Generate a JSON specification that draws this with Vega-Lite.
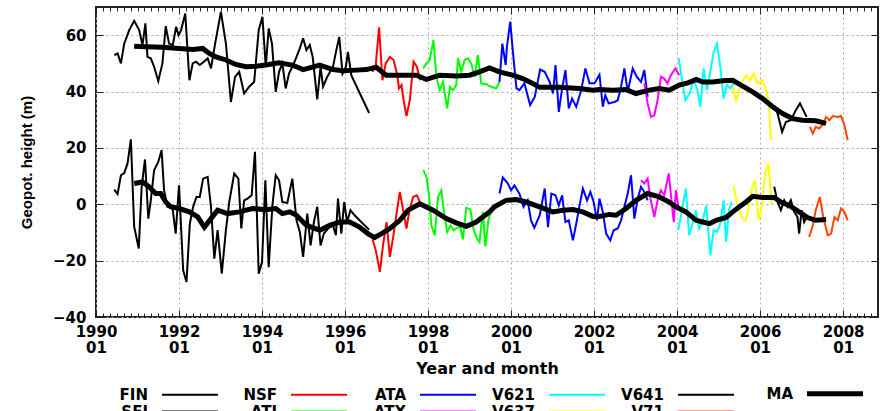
{
"$schema":"https://vega.github.io/schema/vega-lite/v6.json",
"width":782,"height":310,
"autosize":{"type":"none"},
"padding":{"left":96,"top":7,"right":5,"bottom":94},
"background":"white",
"config":{"view":{"stroke":"#222","strokeWidth":2},"axis":{"labelFont":"DejaVu Sans","labelFontWeight":"bold","labelFontSize":15,"labelColor":"#000","titleColor":"#000","domain":false,"labelFlush":false,"labelOverlap":false,"labelBound":false,"tickColor":"#222","tickWidth":1}},
"datasets":{"d":[
{"s":"FIN","l":"U","t":1990.44,"v":52.9},{"s":"FIN","l":"U","t":1990.52,"v":53.5},{"s":"FIN","l":"U","t":1990.60,"v":50.0},{"s":"FIN","l":"U","t":1990.68,"v":57.0},{"s":"FIN","l":"U","t":1990.80,"v":61.8},{"s":"FIN","l":"U","t":1990.92,"v":65.1},{"s":"FIN","l":"U","t":1991.04,"v":61.8},{"s":"FIN","l":"U","t":1991.12,"v":56.5},{"s":"FIN","l":"U","t":1991.19,"v":64.2},{"s":"FIN","l":"U","t":1991.24,"v":52.3},{"s":"FIN","l":"U","t":1991.32,"v":51.8},{"s":"FIN","l":"U","t":1991.40,"v":48.8},{"s":"FIN","l":"U","t":1991.50,"v":43.7},{"s":"FIN","l":"U","t":1991.60,"v":50.0},{"s":"FIN","l":"U","t":1991.68,"v":63.2},{"s":"FIN","l":"U","t":1991.76,"v":57.0},{"s":"FIN","l":"U","t":1991.85,"v":56.5},{"s":"FIN","l":"U","t":1991.93,"v":63.0},{"s":"FIN","l":"U","t":1991.99,"v":60.0},{"s":"FIN","l":"U","t":1992.05,"v":61.8},{"s":"FIN","l":"U","t":1992.15,"v":67.7},{"s":"FIN","l":"U","t":1992.25,"v":44.0},{"s":"FIN","l":"U","t":1992.33,"v":50.0},{"s":"FIN","l":"U","t":1992.41,"v":50.6},{"s":"FIN","l":"U","t":1992.50,"v":49.4},{"s":"FIN","l":"U","t":1992.60,"v":50.6},{"s":"FIN","l":"U","t":1992.69,"v":51.8},{"s":"FIN","l":"U","t":1992.77,"v":48.2},{"s":"FIN","l":"U","t":1992.87,"v":57.0},{"s":"FIN","l":"U","t":1993.01,"v":68.3},{"s":"FIN","l":"U","t":1993.13,"v":57.0},{"s":"FIN","l":"U","t":1993.25,"v":36.3},{"s":"FIN","l":"U","t":1993.35,"v":45.2},{"s":"FIN","l":"U","t":1993.45,"v":47.0},{"s":"FIN","l":"U","t":1993.57,"v":39.3},{"s":"FIN","l":"U","t":1993.69,"v":41.7},{"s":"FIN","l":"U","t":1993.81,"v":43.4},{"s":"FIN","l":"U","t":1993.92,"v":61.8},{"s":"FIN","l":"U","t":1994.01,"v":66.5},{"s":"FIN","l":"U","t":1994.09,"v":48.8},{"s":"FIN","l":"U","t":1994.16,"v":62.4},{"s":"FIN","l":"U","t":1994.24,"v":57.0},{"s":"FIN","l":"U","t":1994.33,"v":39.9},{"s":"FIN","l":"U","t":1994.41,"v":47.0},{"s":"FIN","l":"U","t":1994.49,"v":50.0},{"s":"FIN","l":"U","t":1994.57,"v":41.1},{"s":"FIN","l":"U","t":1994.65,"v":46.4},{"s":"FIN","l":"U","t":1994.75,"v":49.4},{"s":"FIN","l":"U","t":1994.83,"v":52.3},{"s":"FIN","l":"U","t":1994.91,"v":55.3},{"s":"FIN","l":"U","t":1994.99,"v":58.9},
{"s":"SFI","l":"U","t":1994.99,"v":58.9},{"s":"SFI","l":"U","t":1995.07,"v":54.7},{"s":"SFI","l":"U","t":1995.15,"v":56.5},{"s":"SFI","l":"U","t":1995.22,"v":52.3},{"s":"SFI","l":"U","t":1995.33,"v":37.2},{"s":"SFI","l":"U","t":1995.41,"v":48.8},{"s":"SFI","l":"U","t":1995.47,"v":41.7},{"s":"SFI","l":"U","t":1995.57,"v":45.2},{"s":"SFI","l":"U","t":1995.71,"v":48.8},{"s":"SFI","l":"U","t":1995.79,"v":54.7},{"s":"SFI","l":"U","t":1995.86,"v":59.4},{"s":"SFI","l":"U","t":1995.94,"v":46.4},{"s":"SFI","l":"U","t":1996.02,"v":48.8},{"s":"SFI","l":"U","t":1996.07,"v":54.1},{"s":"SFI","l":"U","t":1996.15,"v":45.8},{"s":"SFI","l":"U","t":1996.58,"v":32.4},
{"s":"NSF","l":"U","t":1996.66,"v":47.0},{"s":"NSF","l":"U","t":1996.74,"v":49.4},{"s":"NSF","l":"U","t":1996.82,"v":62.8},{"s":"NSF","l":"U","t":1996.90,"v":44.0},{"s":"NSF","l":"U","t":1996.98,"v":50.0},{"s":"NSF","l":"U","t":1997.08,"v":52.3},{"s":"NSF","l":"U","t":1997.17,"v":51.2},{"s":"NSF","l":"U","t":1997.25,"v":46.4},{"s":"NSF","l":"U","t":1997.30,"v":41.1},{"s":"NSF","l":"U","t":1997.36,"v":42.3},{"s":"NSF","l":"U","t":1997.41,"v":36.9},{"s":"NSF","l":"U","t":1997.48,"v":31.3},{"s":"NSF","l":"U","t":1997.56,"v":36.9},{"s":"NSF","l":"U","t":1997.65,"v":50.6},{"s":"NSF","l":"U","t":1997.73,"v":48.8},{"s":"NSF","l":"U","t":1997.81,"v":44.0},
{"s":"ATI","l":"U","t":1997.88,"v":48.2},{"s":"ATI","l":"U","t":1997.96,"v":50.0},{"s":"ATI","l":"U","t":1998.04,"v":51.2},{"s":"ATI","l":"U","t":1998.13,"v":58.3},{"s":"ATI","l":"U","t":1998.20,"v":45.2},{"s":"ATI","l":"U","t":1998.28,"v":40.5},{"s":"ATI","l":"U","t":1998.36,"v":43.4},{"s":"ATI","l":"U","t":1998.46,"v":34.0},{"s":"ATI","l":"U","t":1998.53,"v":41.7},{"s":"ATI","l":"U","t":1998.60,"v":40.5},{"s":"ATI","l":"U","t":1998.68,"v":42.3},{"s":"ATI","l":"U","t":1998.72,"v":51.8},{"s":"ATI","l":"U","t":1998.80,"v":47.0},{"s":"ATI","l":"U","t":1998.88,"v":51.2},{"s":"ATI","l":"U","t":1998.96,"v":51.8},{"s":"ATI","l":"U","t":1999.04,"v":50.0},{"s":"ATI","l":"U","t":1999.12,"v":45.2},{"s":"ATI","l":"U","t":1999.20,"v":52.9},{"s":"ATI","l":"U","t":1999.28,"v":42.9},{"s":"ATI","l":"U","t":1999.40,"v":42.6},{"s":"ATI","l":"U","t":1999.48,"v":41.9},{"s":"ATI","l":"U","t":1999.64,"v":41.1},{"s":"ATI","l":"U","t":1999.72,"v":43.4},
{"s":"ATA","l":"U","t":1999.72,"v":43.4},{"s":"ATA","l":"U","t":1999.79,"v":57.0},{"s":"ATA","l":"U","t":1999.87,"v":49.4},{"s":"ATA","l":"U","t":1999.90,"v":55.9},{"s":"ATA","l":"U","t":1999.98,"v":64.8},{"s":"ATA","l":"U","t":2000.04,"v":54.7},{"s":"ATA","l":"U","t":2000.13,"v":41.1},{"s":"ATA","l":"U","t":2000.20,"v":40.5},{"s":"ATA","l":"U","t":2000.32,"v":42.9},{"s":"ATA","l":"U","t":2000.46,"v":35.2},{"s":"ATA","l":"U","t":2000.57,"v":38.1},{"s":"ATA","l":"U","t":2000.70,"v":47.8},{"s":"ATA","l":"U","t":2000.81,"v":47.0},{"s":"ATA","l":"U","t":2000.93,"v":43.4},{"s":"ATA","l":"U","t":2001.01,"v":39.3},{"s":"ATA","l":"U","t":2001.07,"v":49.4},{"s":"ATA","l":"U","t":2001.15,"v":32.8},{"s":"ATA","l":"U","t":2001.23,"v":41.1},{"s":"ATA","l":"U","t":2001.31,"v":47.6},{"s":"ATA","l":"U","t":2001.39,"v":34.0},{"s":"ATA","l":"U","t":2001.47,"v":37.5},{"s":"ATA","l":"U","t":2001.57,"v":34.6},{"s":"ATA","l":"U","t":2001.69,"v":40.5},{"s":"ATA","l":"U","t":2001.79,"v":48.2},{"s":"ATA","l":"U","t":2001.89,"v":42.9},{"s":"ATA","l":"U","t":2002.01,"v":42.9},{"s":"ATA","l":"U","t":2002.13,"v":46.0},{"s":"ATA","l":"U","t":2002.21,"v":34.6},{"s":"ATA","l":"U","t":2002.27,"v":38.7},{"s":"ATA","l":"U","t":2002.35,"v":35.8},{"s":"ATA","l":"U","t":2002.49,"v":36.3},{"s":"ATA","l":"U","t":2002.57,"v":36.9},{"s":"ATA","l":"U","t":2002.65,"v":41.7},{"s":"ATA","l":"U","t":2002.73,"v":48.2},{"s":"ATA","l":"U","t":2002.81,"v":39.9},{"s":"ATA","l":"U","t":2002.93,"v":48.2},{"s":"ATA","l":"U","t":2003.03,"v":45.2},{"s":"ATA","l":"U","t":2003.13,"v":43.4},{"s":"ATA","l":"U","t":2003.21,"v":47.6},{"s":"ATA","l":"U","t":2003.29,"v":38.1},
{"s":"ATX","l":"U","t":2003.21,"v":42.9},{"s":"ATX","l":"U","t":2003.29,"v":35.8},{"s":"ATX","l":"U","t":2003.37,"v":31.0},{"s":"ATX","l":"U","t":2003.45,"v":31.6},{"s":"ATX","l":"U","t":2003.53,"v":36.9},{"s":"ATX","l":"U","t":2003.61,"v":45.2},{"s":"ATX","l":"U","t":2003.69,"v":44.6},{"s":"ATX","l":"U","t":2003.77,"v":42.9},{"s":"ATX","l":"U","t":2003.85,"v":45.8},{"s":"ATX","l":"U","t":2003.96,"v":48.2},{"s":"ATX","l":"U","t":2004.05,"v":45.8},
{"s":"V621","l":"U","t":2004.04,"v":51.8},{"s":"V621","l":"U","t":2004.10,"v":45.8},{"s":"V621","l":"U","t":2004.20,"v":36.9},{"s":"V621","l":"U","t":2004.30,"v":39.3},{"s":"V621","l":"U","t":2004.40,"v":44.0},{"s":"V621","l":"U","t":2004.48,"v":41.1},{"s":"V621","l":"U","t":2004.56,"v":34.6},{"s":"V621","l":"U","t":2004.64,"v":48.2},{"s":"V621","l":"U","t":2004.72,"v":40.5},{"s":"V621","l":"U","t":2004.80,"v":47.0},{"s":"V621","l":"U","t":2004.88,"v":54.1},{"s":"V621","l":"U","t":2004.96,"v":57.0},{"s":"V621","l":"U","t":2005.04,"v":48.8},{"s":"V621","l":"U","t":2005.12,"v":37.5},{"s":"V621","l":"U","t":2005.20,"v":42.3},{"s":"V621","l":"U","t":2005.28,"v":41.1},{"s":"V621","l":"U","t":2005.36,"v":42.9},
{"s":"V637","l":"U","t":2005.34,"v":41.7},{"s":"V637","l":"U","t":2005.42,"v":36.9},{"s":"V637","l":"U","t":2005.50,"v":40.5},{"s":"V637","l":"U","t":2005.59,"v":44.0},{"s":"V637","l":"U","t":2005.67,"v":45.8},{"s":"V637","l":"U","t":2005.76,"v":44.0},{"s":"V637","l":"U","t":2005.84,"v":46.4},{"s":"V637","l":"U","t":2005.94,"v":42.9},{"s":"V637","l":"U","t":2006.05,"v":44.0},{"s":"V637","l":"U","t":2006.14,"v":40.5},{"s":"V637","l":"U","t":2006.21,"v":35.8},{"s":"V637","l":"U","t":2006.26,"v":22.7},
{"s":"V641","l":"U","t":2006.34,"v":35.2},{"s":"V641","l":"U","t":2006.42,"v":32.2},{"s":"V641","l":"U","t":2006.53,"v":25.7},{"s":"V641","l":"U","t":2006.62,"v":29.2},{"s":"V641","l":"U","t":2006.74,"v":29.8},{"s":"V641","l":"U","t":2006.86,"v":33.4},{"s":"V641","l":"U","t":2006.96,"v":35.8},{"s":"V641","l":"U","t":2007.04,"v":33.4},{"s":"V641","l":"U","t":2007.12,"v":31.0},
{"s":"V71","l":"U","t":2007.20,"v":27.5},{"s":"V71","l":"U","t":2007.27,"v":25.1},{"s":"V71","l":"U","t":2007.34,"v":27.5},{"s":"V71","l":"U","t":2007.42,"v":26.9},{"s":"V71","l":"U","t":2007.50,"v":28.1},{"s":"V71","l":"U","t":2007.59,"v":31.0},{"s":"V71","l":"U","t":2007.67,"v":29.8},{"s":"V71","l":"U","t":2007.75,"v":31.3},{"s":"V71","l":"U","t":2007.87,"v":31.0},{"s":"V71","l":"U","t":2007.95,"v":31.3},{"s":"V71","l":"U","t":2008.03,"v":28.1},{"s":"V71","l":"U","t":2008.11,"v":22.7},
{"s":"MA","l":"U","t":1990.92,"v":56.1},{"s":"MA","l":"U","t":1991.20,"v":55.9},{"s":"MA","l":"U","t":1991.60,"v":55.7},{"s":"MA","l":"U","t":1992.00,"v":55.3},{"s":"MA","l":"U","t":1992.33,"v":54.9},{"s":"MA","l":"U","t":1992.57,"v":55.3},{"s":"MA","l":"U","t":1992.73,"v":53.5},{"s":"MA","l":"U","t":1992.89,"v":52.3},{"s":"MA","l":"U","t":1993.13,"v":51.2},{"s":"MA","l":"U","t":1993.37,"v":49.6},{"s":"MA","l":"U","t":1993.61,"v":48.8},{"s":"MA","l":"U","t":1993.85,"v":49.0},{"s":"MA","l":"U","t":1994.09,"v":49.4},{"s":"MA","l":"U","t":1994.41,"v":50.2},{"s":"MA","l":"U","t":1994.73,"v":49.4},{"s":"MA","l":"U","t":1994.99,"v":47.8},{"s":"MA","l":"U","t":1995.39,"v":49.4},{"s":"MA","l":"U","t":1995.71,"v":47.8},{"s":"MA","l":"U","t":1995.95,"v":47.4},{"s":"MA","l":"U","t":1996.27,"v":47.6},{"s":"MA","l":"U","t":1996.51,"v":47.8},{"s":"MA","l":"U","t":1996.75,"v":48.6},{"s":"MA","l":"U","t":1996.99,"v":45.8},{"s":"MA","l":"U","t":1997.40,"v":45.8},{"s":"MA","l":"U","t":1997.72,"v":45.8},{"s":"MA","l":"U","t":1997.96,"v":44.3},{"s":"MA","l":"U","t":1998.28,"v":45.8},{"s":"MA","l":"U","t":1998.68,"v":45.5},{"s":"MA","l":"U","t":1999.00,"v":45.8},{"s":"MA","l":"U","t":1999.24,"v":47.0},{"s":"MA","l":"U","t":1999.48,"v":48.4},{"s":"MA","l":"U","t":1999.72,"v":47.0},{"s":"MA","l":"U","t":2000.04,"v":45.8},{"s":"MA","l":"U","t":2000.28,"v":44.6},{"s":"MA","l":"U","t":2000.52,"v":42.9},{"s":"MA","l":"U","t":2000.69,"v":41.5},{"s":"MA","l":"U","t":2001.17,"v":41.5},{"s":"MA","l":"U","t":2001.65,"v":41.1},{"s":"MA","l":"U","t":2001.97,"v":40.5},{"s":"MA","l":"U","t":2002.13,"v":40.7},{"s":"MA","l":"U","t":2002.45,"v":40.5},{"s":"MA","l":"U","t":2002.77,"v":40.7},{"s":"MA","l":"U","t":2003.01,"v":39.3},{"s":"MA","l":"U","t":2003.33,"v":40.5},{"s":"MA","l":"U","t":2003.57,"v":41.1},{"s":"MA","l":"U","t":2003.81,"v":40.5},{"s":"MA","l":"U","t":2004.05,"v":42.3},{"s":"MA","l":"U","t":2004.26,"v":43.1},{"s":"MA","l":"U","t":2004.46,"v":44.3},{"s":"MA","l":"U","t":2004.62,"v":43.4},{"s":"MA","l":"U","t":2004.86,"v":43.4},{"s":"MA","l":"U","t":2005.10,"v":43.8},{"s":"MA","l":"U","t":2005.34,"v":44.0},{"s":"MA","l":"U","t":2005.58,"v":41.9},{"s":"MA","l":"U","t":2005.82,"v":39.9},{"s":"MA","l":"U","t":2006.06,"v":37.5},{"s":"MA","l":"U","t":2006.30,"v":34.6},{"s":"MA","l":"U","t":2006.54,"v":32.2},{"s":"MA","l":"U","t":2006.78,"v":30.4},{"s":"MA","l":"U","t":2007.02,"v":29.8},{"s":"MA","l":"U","t":2007.34,"v":29.6},{"s":"MA","l":"U","t":2007.59,"v":28.7},
{"s":"FIN","l":"L","t":1990.44,"v":5.2},{"s":"FIN","l":"L","t":1990.52,"v":3.6},{"s":"FIN","l":"L","t":1990.60,"v":10.3},{"s":"FIN","l":"L","t":1990.68,"v":11.1},{"s":"FIN","l":"L","t":1990.76,"v":14.5},{"s":"FIN","l":"L","t":1990.84,"v":23.0},{"s":"FIN","l":"L","t":1990.92,"v":-8.0},{"s":"FIN","l":"L","t":1991.03,"v":-15.7},{"s":"FIN","l":"L","t":1991.10,"v":6.2},{"s":"FIN","l":"L","t":1991.18,"v":15.9},{"s":"FIN","l":"L","t":1991.26,"v":-5.1},{"s":"FIN","l":"L","t":1991.32,"v":1.4},{"s":"FIN","l":"L","t":1991.40,"v":12.1},{"s":"FIN","l":"L","t":1991.50,"v":15.0},{"s":"FIN","l":"L","t":1991.58,"v":19.2},{"s":"FIN","l":"L","t":1991.64,"v":5.0},{"s":"FIN","l":"L","t":1991.72,"v":-0.9},{"s":"FIN","l":"L","t":1991.84,"v":-0.9},{"s":"FIN","l":"L","t":1991.92,"v":-10.4},{"s":"FIN","l":"L","t":1992.00,"v":6.7},{"s":"FIN","l":"L","t":1992.10,"v":-23.4},{"s":"FIN","l":"L","t":1992.18,"v":-27.6},{"s":"FIN","l":"L","t":1992.26,"v":-6.9},{"s":"FIN","l":"L","t":1992.34,"v":-0.9},{"s":"FIN","l":"L","t":1992.42,"v":2.6},{"s":"FIN","l":"L","t":1992.50,"v":2.6},{"s":"FIN","l":"L","t":1992.58,"v":9.1},{"s":"FIN","l":"L","t":1992.69,"v":9.7},{"s":"FIN","l":"L","t":1992.77,"v":-0.9},{"s":"FIN","l":"L","t":1992.85,"v":-19.3},{"s":"FIN","l":"L","t":1992.93,"v":-9.2},{"s":"FIN","l":"L","t":1993.03,"v":-24.6},{"s":"FIN","l":"L","t":1993.13,"v":-9.2},{"s":"FIN","l":"L","t":1993.21,"v":0.8},{"s":"FIN","l":"L","t":1993.33,"v":10.9},{"s":"FIN","l":"L","t":1993.43,"v":9.1},{"s":"FIN","l":"L","t":1993.50,"v":-8.6},{"s":"FIN","l":"L","t":1993.57,"v":1.4},{"s":"FIN","l":"L","t":1993.65,"v":2.0},{"s":"FIN","l":"L","t":1993.75,"v":3.2},{"s":"FIN","l":"L","t":1993.83,"v":18.6},{"s":"FIN","l":"L","t":1993.92,"v":-24.6},{"s":"FIN","l":"L","t":1994.00,"v":-20.5},{"s":"FIN","l":"L","t":1994.08,"v":8.5},{"s":"FIN","l":"L","t":1994.16,"v":-22.3},{"s":"FIN","l":"L","t":1994.25,"v":-0.4},{"s":"FIN","l":"L","t":1994.33,"v":10.3},{"s":"FIN","l":"L","t":1994.41,"v":8.5},{"s":"FIN","l":"L","t":1994.49,"v":0.8},{"s":"FIN","l":"L","t":1994.61,"v":0.5},{"s":"FIN","l":"L","t":1994.73,"v":9.1},{"s":"FIN","l":"L","t":1994.83,"v":-5.7},{"s":"FIN","l":"L","t":1994.91,"v":-9.8},{"s":"FIN","l":"L","t":1994.99,"v":-18.7},
{"s":"SFI","l":"L","t":1994.99,"v":-18.7},{"s":"SFI","l":"L","t":1995.09,"v":-3.3},{"s":"SFI","l":"L","t":1995.17,"v":-14.6},{"s":"SFI","l":"L","t":1995.25,"v":-6.3},{"s":"SFI","l":"L","t":1995.33,"v":-0.9},{"s":"SFI","l":"L","t":1995.41,"v":-14.6},{"s":"SFI","l":"L","t":1995.49,"v":-10.4},{"s":"SFI","l":"L","t":1995.59,"v":-8.6},{"s":"SFI","l":"L","t":1995.71,"v":-7.5},{"s":"SFI","l":"L","t":1995.78,"v":-11.0},{"s":"SFI","l":"L","t":1995.83,"v":2.0},{"s":"SFI","l":"L","t":1995.91,"v":-10.4},{"s":"SFI","l":"L","t":1995.98,"v":0.8},{"s":"SFI","l":"L","t":1996.05,"v":-6.3},{"s":"SFI","l":"L","t":1996.13,"v":-2.1},{"s":"SFI","l":"L","t":1996.23,"v":-3.9},{"s":"SFI","l":"L","t":1996.39,"v":-6.3},{"s":"SFI","l":"L","t":1996.58,"v":-9.0},
{"s":"NSF","l":"L","t":1996.66,"v":-12.5},{"s":"NSF","l":"L","t":1996.74,"v":-16.3},{"s":"NSF","l":"L","t":1996.84,"v":-24.0},{"s":"NSF","l":"L","t":1996.92,"v":-14.0},{"s":"NSF","l":"L","t":1997.00,"v":-6.3},{"s":"NSF","l":"L","t":1997.08,"v":-18.7},{"s":"NSF","l":"L","t":1997.16,"v":-11.6},{"s":"NSF","l":"L","t":1997.24,"v":-3.3},{"s":"NSF","l":"L","t":1997.32,"v":4.4},{"s":"NSF","l":"L","t":1997.40,"v":-2.1},{"s":"NSF","l":"L","t":1997.48,"v":-8.6},{"s":"NSF","l":"L","t":1997.56,"v":-1.5},{"s":"NSF","l":"L","t":1997.64,"v":2.6},{"s":"NSF","l":"L","t":1997.73,"v":3.2},{"s":"NSF","l":"L","t":1997.84,"v":-0.4},
{"s":"ATI","l":"L","t":1997.89,"v":12.1},{"s":"ATI","l":"L","t":1997.96,"v":9.7},{"s":"ATI","l":"L","t":1998.02,"v":3.8},{"s":"ATI","l":"L","t":1998.08,"v":-7.5},{"s":"ATI","l":"L","t":1998.16,"v":-11.0},{"s":"ATI","l":"L","t":1998.24,"v":2.6},{"s":"ATI","l":"L","t":1998.32,"v":5.0},{"s":"ATI","l":"L","t":1998.40,"v":-4.5},{"s":"ATI","l":"L","t":1998.46,"v":-9.8},{"s":"ATI","l":"L","t":1998.54,"v":-7.5},{"s":"ATI","l":"L","t":1998.62,"v":-9.2},{"s":"ATI","l":"L","t":1998.70,"v":-8.3},{"s":"ATI","l":"L","t":1998.78,"v":-8.1},{"s":"ATI","l":"L","t":1998.84,"v":-12.5},{"s":"ATI","l":"L","t":1998.92,"v":-1.2},{"s":"ATI","l":"L","t":1999.02,"v":-1.9},{"s":"ATI","l":"L","t":1999.10,"v":-9.2},{"s":"ATI","l":"L","t":1999.18,"v":-12.2},{"s":"ATI","l":"L","t":1999.24,"v":-13.4},{"s":"ATI","l":"L","t":1999.32,"v":-2.7},{"s":"ATI","l":"L","t":1999.38,"v":-15.0},{"s":"ATI","l":"L","t":1999.46,"v":-5.0},{"s":"ATI","l":"L","t":1999.56,"v":-1.5},{"s":"ATI","l":"L","t":1999.64,"v":-0.4},
{"s":"ATA","l":"L","t":1999.72,"v":3.8},{"s":"ATA","l":"L","t":1999.80,"v":9.5},{"s":"ATA","l":"L","t":1999.92,"v":7.4},{"s":"ATA","l":"L","t":2000.00,"v":5.0},{"s":"ATA","l":"L","t":2000.08,"v":6.7},{"s":"ATA","l":"L","t":2000.20,"v":3.8},{"s":"ATA","l":"L","t":2000.30,"v":-0.9},{"s":"ATA","l":"L","t":2000.40,"v":1.4},{"s":"ATA","l":"L","t":2000.48,"v":-5.7},{"s":"ATA","l":"L","t":2000.56,"v":-8.3},{"s":"ATA","l":"L","t":2000.69,"v":-3.9},{"s":"ATA","l":"L","t":2000.81,"v":5.6},{"s":"ATA","l":"L","t":2000.89,"v":-8.1},{"s":"ATA","l":"L","t":2000.97,"v":3.8},{"s":"ATA","l":"L","t":2001.07,"v":3.2},{"s":"ATA","l":"L","t":2001.15,"v":-0.4},{"s":"ATA","l":"L","t":2001.23,"v":3.2},{"s":"ATA","l":"L","t":2001.31,"v":-6.3},{"s":"ATA","l":"L","t":2001.39,"v":-5.7},{"s":"ATA","l":"L","t":2001.49,"v":-12.8},{"s":"ATA","l":"L","t":2001.57,"v":-6.9},{"s":"ATA","l":"L","t":2001.65,"v":-0.4},{"s":"ATA","l":"L","t":2001.73,"v":5.6},{"s":"ATA","l":"L","t":2001.83,"v":1.4},{"s":"ATA","l":"L","t":2001.91,"v":4.4},{"s":"ATA","l":"L","t":2001.99,"v":0.8},{"s":"ATA","l":"L","t":2002.07,"v":-5.7},{"s":"ATA","l":"L","t":2002.13,"v":2.0},{"s":"ATA","l":"L","t":2002.21,"v":-2.7},{"s":"ATA","l":"L","t":2002.29,"v":-10.4},{"s":"ATA","l":"L","t":2002.39,"v":-12.8},{"s":"ATA","l":"L","t":2002.47,"v":-9.2},{"s":"ATA","l":"L","t":2002.57,"v":-8.6},{"s":"ATA","l":"L","t":2002.65,"v":-5.7},{"s":"ATA","l":"L","t":2002.73,"v":-0.9},{"s":"ATA","l":"L","t":2002.81,"v":3.8},{"s":"ATA","l":"L","t":2002.89,"v":10.3},{"s":"ATA","l":"L","t":2002.97,"v":-5.1},{"s":"ATA","l":"L","t":2003.05,"v":2.0},{"s":"ATA","l":"L","t":2003.13,"v":6.2},{"s":"ATA","l":"L","t":2003.21,"v":4.4},{"s":"ATA","l":"L","t":2003.29,"v":1.4},
{"s":"ATX","l":"L","t":2003.13,"v":8.5},{"s":"ATX","l":"L","t":2003.21,"v":7.4},{"s":"ATX","l":"L","t":2003.29,"v":9.1},{"s":"ATX","l":"L","t":2003.35,"v":2.6},{"s":"ATX","l":"L","t":2003.45,"v":-4.5},{"s":"ATX","l":"L","t":2003.53,"v":1.4},{"s":"ATX","l":"L","t":2003.61,"v":5.0},{"s":"ATX","l":"L","t":2003.69,"v":3.2},{"s":"ATX","l":"L","t":2003.80,"v":10.9},{"s":"ATX","l":"L","t":2003.88,"v":-0.9},{"s":"ATX","l":"L","t":2003.92,"v":-6.3},{"s":"ATX","l":"L","t":2003.97,"v":5.0},{"s":"ATX","l":"L","t":2004.03,"v":-0.9},
{"s":"V621","l":"L","t":2004.03,"v":-9.2},{"s":"V621","l":"L","t":2004.13,"v":-0.9},{"s":"V621","l":"L","t":2004.21,"v":5.6},{"s":"V621","l":"L","t":2004.29,"v":-11.0},{"s":"V621","l":"L","t":2004.37,"v":-6.9},{"s":"V621","l":"L","t":2004.45,"v":-2.1},{"s":"V621","l":"L","t":2004.53,"v":-8.6},{"s":"V621","l":"L","t":2004.62,"v":-5.7},{"s":"V621","l":"L","t":2004.70,"v":-0.4},{"s":"V621","l":"L","t":2004.80,"v":-18.1},{"s":"V621","l":"L","t":2004.88,"v":-9.2},{"s":"V621","l":"L","t":2004.96,"v":-9.8},{"s":"V621","l":"L","t":2005.04,"v":-6.9},{"s":"V621","l":"L","t":2005.12,"v":1.4},{"s":"V621","l":"L","t":2005.18,"v":-13.4},{"s":"V621","l":"L","t":2005.25,"v":-2.1},{"s":"V621","l":"L","t":2005.31,"v":0.8},
{"s":"V637","l":"L","t":2005.36,"v":6.7},{"s":"V637","l":"L","t":2005.44,"v":0.8},{"s":"V637","l":"L","t":2005.50,"v":-2.1},{"s":"V637","l":"L","t":2005.58,"v":-5.1},{"s":"V637","l":"L","t":2005.66,"v":-5.7},{"s":"V637","l":"L","t":2005.74,"v":0.2},{"s":"V637","l":"L","t":2005.80,"v":5.6},{"s":"V637","l":"L","t":2005.88,"v":8.5},{"s":"V637","l":"L","t":2005.96,"v":-5.7},{"s":"V637","l":"L","t":2006.04,"v":-0.9},{"s":"V637","l":"L","t":2006.12,"v":10.9},{"s":"V637","l":"L","t":2006.20,"v":14.5},{"s":"V637","l":"L","t":2006.28,"v":0.2},
{"s":"V641","l":"L","t":2006.34,"v":6.2},{"s":"V641","l":"L","t":2006.42,"v":0.8},{"s":"V641","l":"L","t":2006.50,"v":-2.1},{"s":"V641","l":"L","t":2006.58,"v":1.4},{"s":"V641","l":"L","t":2006.66,"v":-0.9},{"s":"V641","l":"L","t":2006.74,"v":1.4},{"s":"V641","l":"L","t":2006.82,"v":-2.7},{"s":"V641","l":"L","t":2006.90,"v":-4.5},{"s":"V641","l":"L","t":2006.94,"v":-10.4},{"s":"V641","l":"L","t":2007.00,"v":-2.1},{"s":"V641","l":"L","t":2007.06,"v":-6.3},{"s":"V641","l":"L","t":2007.12,"v":-4.5},
{"s":"V71","l":"L","t":2007.18,"v":-11.6},{"s":"V71","l":"L","t":2007.26,"v":-8.1},{"s":"V71","l":"L","t":2007.34,"v":-2.1},{"s":"V71","l":"L","t":2007.44,"v":2.6},{"s":"V71","l":"L","t":2007.52,"v":-4.5},{"s":"V71","l":"L","t":2007.63,"v":-11.0},{"s":"V71","l":"L","t":2007.71,"v":-10.4},{"s":"V71","l":"L","t":2007.79,"v":-4.5},{"s":"V71","l":"L","t":2007.87,"v":-5.7},{"s":"V71","l":"L","t":2007.95,"v":-1.5},{"s":"V71","l":"L","t":2008.03,"v":-2.7},{"s":"V71","l":"L","t":2008.11,"v":-5.7},
{"s":"MA","l":"L","t":1990.92,"v":7.4},{"s":"MA","l":"L","t":1991.12,"v":7.9},{"s":"MA","l":"L","t":1991.28,"v":6.2},{"s":"MA","l":"L","t":1991.44,"v":3.8},{"s":"MA","l":"L","t":1991.56,"v":3.8},{"s":"MA","l":"L","t":1991.68,"v":0.8},{"s":"MA","l":"L","t":1991.80,"v":-0.9},{"s":"MA","l":"L","t":1992.00,"v":-1.5},{"s":"MA","l":"L","t":1992.25,"v":-2.7},{"s":"MA","l":"L","t":1992.45,"v":-4.5},{"s":"MA","l":"L","t":1992.61,"v":-8.1},{"s":"MA","l":"L","t":1992.77,"v":-5.1},{"s":"MA","l":"L","t":1992.93,"v":-2.1},{"s":"MA","l":"L","t":1993.17,"v":-3.3},{"s":"MA","l":"L","t":1993.45,"v":-2.7},{"s":"MA","l":"L","t":1993.77,"v":-1.5},{"s":"MA","l":"L","t":1994.09,"v":-1.9},{"s":"MA","l":"L","t":1994.33,"v":-1.5},{"s":"MA","l":"L","t":1994.49,"v":-3.3},{"s":"MA","l":"L","t":1994.67,"v":-2.7},{"s":"MA","l":"L","t":1994.83,"v":-3.9},{"s":"MA","l":"L","t":1995.07,"v":-7.5},{"s":"MA","l":"L","t":1995.39,"v":-9.2},{"s":"MA","l":"L","t":1995.63,"v":-7.5},{"s":"MA","l":"L","t":1995.87,"v":-6.3},{"s":"MA","l":"L","t":1996.11,"v":-6.3},{"s":"MA","l":"L","t":1996.35,"v":-8.1},{"s":"MA","l":"L","t":1996.55,"v":-10.4},{"s":"MA","l":"L","t":1996.71,"v":-11.8},{"s":"MA","l":"L","t":1996.88,"v":-10.4},{"s":"MA","l":"L","t":1997.08,"v":-8.6},{"s":"MA","l":"L","t":1997.32,"v":-5.7},{"s":"MA","l":"L","t":1997.52,"v":-2.1},{"s":"MA","l":"L","t":1997.80,"v":0.2},{"s":"MA","l":"L","t":1998.12,"v":-2.1},{"s":"MA","l":"L","t":1998.44,"v":-5.1},{"s":"MA","l":"L","t":1998.68,"v":-6.6},{"s":"MA","l":"L","t":1998.92,"v":-7.8},{"s":"MA","l":"L","t":1999.16,"v":-6.3},{"s":"MA","l":"L","t":1999.48,"v":-2.7},{"s":"MA","l":"L","t":1999.60,"v":-0.9},{"s":"MA","l":"L","t":1999.88,"v":1.4},{"s":"MA","l":"L","t":2000.12,"v":1.7},{"s":"MA","l":"L","t":2000.36,"v":0.8},{"s":"MA","l":"L","t":2000.69,"v":-0.9},{"s":"MA","l":"L","t":2001.00,"v":-2.7},{"s":"MA","l":"L","t":2001.25,"v":-2.1},{"s":"MA","l":"L","t":2001.49,"v":-1.9},{"s":"MA","l":"L","t":2001.73,"v":-2.7},{"s":"MA","l":"L","t":2001.97,"v":-4.3},{"s":"MA","l":"L","t":2002.13,"v":-4.3},{"s":"MA","l":"L","t":2002.37,"v":-3.6},{"s":"MA","l":"L","t":2002.53,"v":-3.9},{"s":"MA","l":"L","t":2002.77,"v":-1.5},{"s":"MA","l":"L","t":2003.01,"v":1.4},{"s":"MA","l":"L","t":2003.29,"v":3.8},{"s":"MA","l":"L","t":2003.57,"v":2.6},{"s":"MA","l":"L","t":2003.81,"v":0.8},{"s":"MA","l":"L","t":2003.97,"v":-0.9},{"s":"MA","l":"L","t":2004.21,"v":-2.7},{"s":"MA","l":"L","t":2004.46,"v":-5.7},{"s":"MA","l":"L","t":2004.62,"v":-6.3},{"s":"MA","l":"L","t":2004.78,"v":-6.9},{"s":"MA","l":"L","t":2004.94,"v":-5.7},{"s":"MA","l":"L","t":2005.18,"v":-4.7},{"s":"MA","l":"L","t":2005.34,"v":-2.7},{"s":"MA","l":"L","t":2005.50,"v":-0.9},{"s":"MA","l":"L","t":2005.66,"v":0.8},{"s":"MA","l":"L","t":2005.82,"v":2.8},{"s":"MA","l":"L","t":2006.06,"v":2.4},{"s":"MA","l":"L","t":2006.34,"v":2.4},{"s":"MA","l":"L","t":2006.50,"v":0.8},{"s":"MA","l":"L","t":2006.70,"v":-0.4},{"s":"MA","l":"L","t":2006.94,"v":-2.7},{"s":"MA","l":"L","t":2007.14,"v":-4.7},{"s":"MA","l":"L","t":2007.34,"v":-5.7},{"s":"MA","l":"L","t":2007.59,"v":-5.4}
]},
"data":{"name":"d"},
"layer":[
{"transform":[{"filter":"datum.s !== 'MA'"}],
 "mark":{"type":"line","strokeWidth":2},
 "encoding":{
  "x":{"field":"t","type":"quantitative","scale":{"domain":[1990,2008.84],"nice":false,"zero":false},
   "axis":{"orient":"bottom","values":[1990,1992,1994,1996,1998,2000,2002,2004,2006,2008],"labelExpr":"[toString(datum.value), '01']","ticks":false,"grid":true,"gridDash":[2,3],"gridColor":"#aaa","gridWidth":1,"labelPadding":7,"labelLineHeight":16,"title":"Year and month","titleFont":"DejaVu Sans","titleFontSize":16,"titleFontWeight":"bold","titlePadding":5}},
  "y":{"field":"v","type":"quantitative","scale":{"domain":[-40,70],"nice":false,"zero":false},
   "axis":{"orient":"left","values":[-40,-20,0,20,40,60],"ticks":false,"grid":true,"gridDash":[2,3],"gridColor":"#aaa","gridWidth":1,"labelPadding":10,"title":"Geopot. height (m)","titleFont":"Liberation Sans","titleFontSize":15,"titleFontWeight":"bold","titlePadding":18}},
  "color":{"field":"s","type":"nominal","scale":{"domain":["FIN","NSF","ATA","V621","V641","MA","SFI","ATI","ATX","V637","V71"],"range":["#000000","#ff0000","#0000ff","#00ffff","#000000","#000000","#000000","#00ff00","#ff00ff","#ffff00","#ff4500"]},
   "legend":{"orient":"none","legendX":14,"legendY":379,"direction":"horizontal","columns":6,"title":null,"symbolType":"stroke","symbolSize":3136,"symbolStrokeWidth":2,"labelFont":"DejaVu Sans","labelFontWeight":"bold","labelFontSize":15,"labelColor":"#000","columnPadding":6,"rowPadding":-1,"gridAlign":"all",
    "encode":{"symbols":{"update":{"x":{"value":80},"strokeWidth":{"signal":"datum.value === 'MA' ? 5 : 2"}}},"labels":{"update":{"x":{"value":38},"align":{"value":"right"}}}}}},
  "detail":{"field":"l"}
 }},
{"transform":[{"filter":"datum.s === 'MA'"}],
 "mark":{"type":"line","strokeWidth":5},
 "encoding":{
  "x":{"field":"t","type":"quantitative","scale":{"domain":[1990,2008.84],"nice":false,"zero":false},
   "axis":{"orient":"top","values":[1990,1992,1994,1996,1998,2000,2002,2004,2006,2008],"labels":false,"ticks":true,"tickSize":-7,"grid":false,"title":null}},
  "y":{"field":"v","type":"quantitative","scale":{"domain":[-40,70],"nice":false,"zero":false},
   "axis":{"orient":"right","values":[-40,-20,0,20,40,60],"labels":false,"ticks":true,"tickSize":-7,"grid":false,"title":null}},
  "color":{"field":"s","type":"nominal"},
  "detail":{"field":"l"}
 }},
{"transform":[{"filter":"datum.s === 'MA'"}],
 "mark":{"type":"point","opacity":0},
 "encoding":{
  "x":{"field":"t","type":"quantitative","scale":{"domain":[1990,2008.84],"nice":false,"zero":false},
   "axis":{"orient":"bottom","values":[1990,1992,1994,1996,1998,2000,2002,2004,2006,2008],"labels":false,"ticks":true,"tickSize":-7,"grid":false,"title":null}},
  "y":{"field":"v","type":"quantitative","scale":{"domain":[-40,70],"nice":false,"zero":false},
   "axis":{"orient":"left","values":[-40,-20,0,20,40,60],"labels":false,"ticks":true,"tickSize":-7,"grid":false,"title":null}}
 }},
{"transform":[{"filter":"datum.s === 'MA'"}],
 "mark":{"type":"point","opacity":0},
 "encoding":{
  "x":{"field":"t","type":"quantitative","scale":{"domain":[1990,2008.84],"nice":false,"zero":false},
   "axis":{"orient":"bottom","values":[1990,1990.167,1990.333,1990.5,1990.667,1990.833,1991,1991.167,1991.333,1991.5,1991.667,1991.833,1992,1992.167,1992.333,1992.5,1992.667,1992.833,1993,1993.167,1993.333,1993.5,1993.667,1993.833,1994,1994.167,1994.333,1994.5,1994.667,1994.833,1995,1995.167,1995.333,1995.5,1995.667,1995.833,1996,1996.167,1996.333,1996.5,1996.667,1996.833,1997,1997.167,1997.333,1997.5,1997.667,1997.833,1998,1998.167,1998.333,1998.5,1998.667,1998.833,1999,1999.167,1999.333,1999.5,1999.667,1999.833,2000,2000.167,2000.333,2000.5,2000.667,2000.833,2001,2001.167,2001.333,2001.5,2001.667,2001.833,2002,2002.167,2002.333,2002.5,2002.667,2002.833,2003,2003.167,2003.333,2003.5,2003.667,2003.833,2004,2004.167,2004.333,2004.5,2004.667,2004.833,2005,2005.167,2005.333,2005.5,2005.667,2005.833,2006,2006.167,2006.333,2006.5,2006.667,2006.833,2007,2007.167,2007.333,2007.5,2007.667,2007.833,2008,2008.167,2008.333,2008.5,2008.667,2008.833],"labels":false,"ticks":true,"tickSize":-4,"grid":false,"title":null}},
  "y":{"field":"v","type":"quantitative","scale":{"domain":[-40,70],"nice":false,"zero":false},"axis":null}
 }},
{"transform":[{"filter":"datum.s === 'MA'"}],
 "mark":{"type":"point","opacity":0},
 "encoding":{
  "x":{"field":"t","type":"quantitative","scale":{"domain":[1990,2008.84],"nice":false,"zero":false},
   "axis":{"orient":"top","values":[1990,1990.167,1990.333,1990.5,1990.667,1990.833,1991,1991.167,1991.333,1991.5,1991.667,1991.833,1992,1992.167,1992.333,1992.5,1992.667,1992.833,1993,1993.167,1993.333,1993.5,1993.667,1993.833,1994,1994.167,1994.333,1994.5,1994.667,1994.833,1995,1995.167,1995.333,1995.5,1995.667,1995.833,1996,1996.167,1996.333,1996.5,1996.667,1996.833,1997,1997.167,1997.333,1997.5,1997.667,1997.833,1998,1998.167,1998.333,1998.5,1998.667,1998.833,1999,1999.167,1999.333,1999.5,1999.667,1999.833,2000,2000.167,2000.333,2000.5,2000.667,2000.833,2001,2001.167,2001.333,2001.5,2001.667,2001.833,2002,2002.167,2002.333,2002.5,2002.667,2002.833,2003,2003.167,2003.333,2003.5,2003.667,2003.833,2004,2004.167,2004.333,2004.5,2004.667,2004.833,2005,2005.167,2005.333,2005.5,2005.667,2005.833,2006,2006.167,2006.333,2006.5,2006.667,2006.833,2007,2007.167,2007.333,2007.5,2007.667,2007.833,2008,2008.167,2008.333,2008.5,2008.667,2008.833],"labels":false,"ticks":true,"tickSize":-4,"grid":false,"title":null}},
  "y":{"field":"v","type":"quantitative","scale":{"domain":[-40,70],"nice":false,"zero":false},"axis":null}
 }}
],
"resolve":{"axis":{"x":"independent","y":"independent"}}
}
